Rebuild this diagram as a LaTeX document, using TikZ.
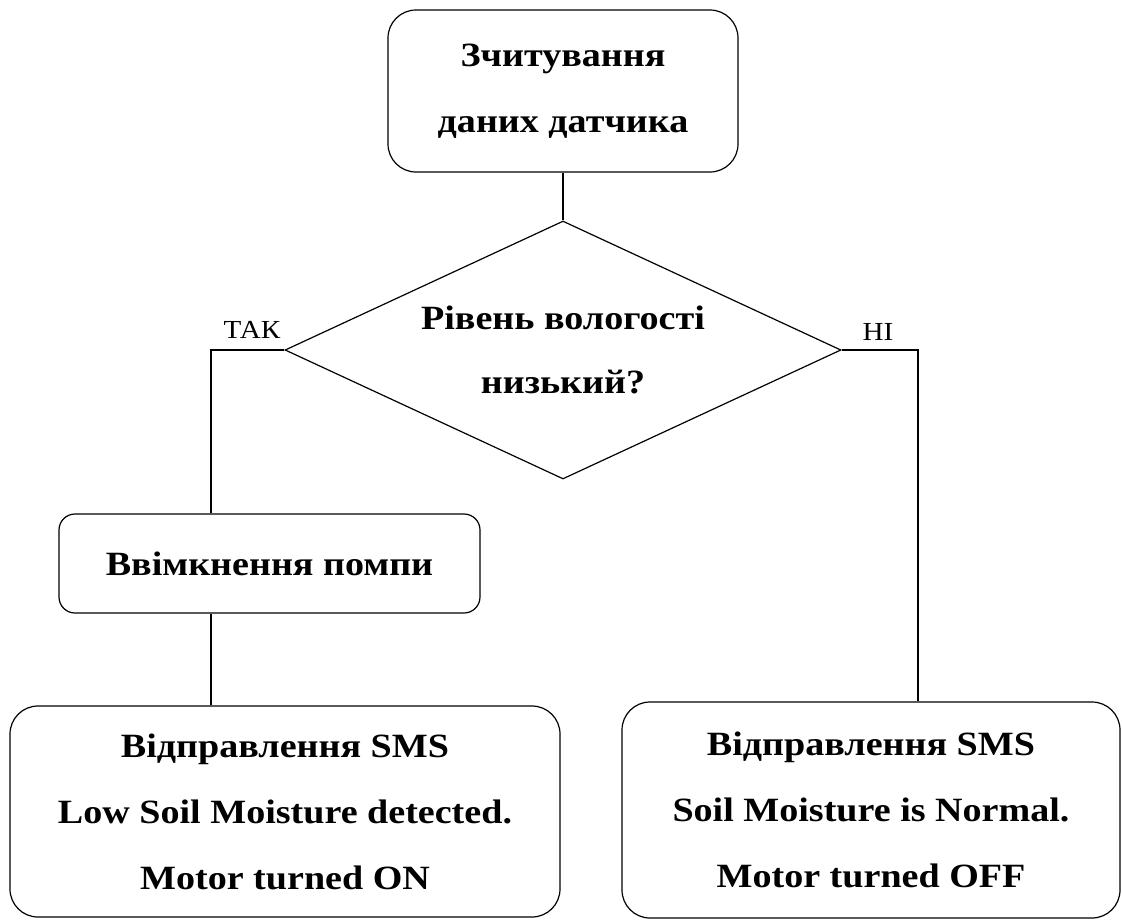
\documentclass[tikz,border=0pt]{standalone}
\usepackage{fontspec}
\setmainfont{Liberation Serif}[FakeStretch=1.12]
\usetikzlibrary{shapes.geometric}
\begin{document}
\begin{tikzpicture}[x=1pt,y=-1pt,line width=1.2pt,
    termbox/.style={draw,rounded corners=28pt,align=center,inner sep=0pt,
        font=\fontsize{34}{66}\selectfont\bfseries},
    choice/.style={draw,diamond,aspect=2.16,minimum width=556pt,minimum height=258pt,
        inner sep=0pt,align=center,font=\fontsize{34}{64}\selectfont\bfseries},
    branch/.style={inner sep=0pt,font=\fontsize{26}{30}\selectfont}]
\useasboundingbox (0,0) rectangle (1122,919);
\node[termbox,minimum width=350pt,minimum height=162pt] (read) at (563,91) {Зчитування\\даних датчика};
\node[choice] (low) at (563,350) {Рівень вологості\\низький?};
\node[termbox,rounded corners=16pt,minimum width=421pt,minimum height=99pt] (pump) at (269.5,563.5) {Ввімкнення помпи};
\node[termbox,minimum width=550pt,minimum height=211pt] (smson) at (285,811.5) {Відправлення SMS\\Low Soil Moisture detected.\\Motor turned ON};
\node[termbox,minimum width=498pt,minimum height=216pt] (smsoff) at (871,810) {Відправлення SMS\\Soil Moisture is Normal.\\Motor turned OFF};
\node[branch] (yes) at (252,330) {ТАК};
\node[branch] (no) at (878,332) {НІ};
\coordinate (yesdrop) at (211,0);
\coordinate (nodrop) at (918,0);
\draw (read.south) -- (low.north);
\draw (low.west) -| (yesdrop |- pump.north);
\draw (yesdrop |- pump.south) -- (yesdrop |- smson.north);
\draw (low.east) -| (nodrop |- smsoff.north);
\end{tikzpicture}
\end{document}
